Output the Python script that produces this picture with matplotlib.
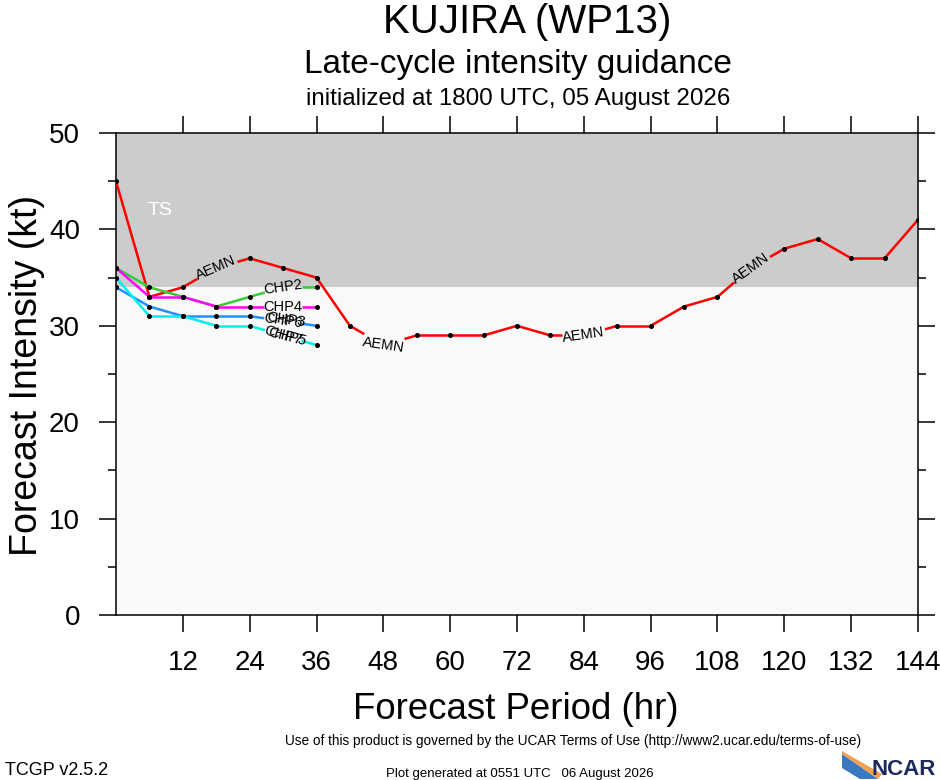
import matplotlib
matplotlib.use('Agg')
import matplotlib.pyplot as plt
import numpy as np
from matplotlib import font_manager
from matplotlib.patches import Polygon

plt.rcParams['font.family'] = ['Liberation Sans', 'DejaVu Sans']

# forecast hours
hours = [0, 6, 12, 18, 24, 30, 36, 42, 48, 54, 60, 66, 72, 78, 84, 90, 96,
         102, 108, 114, 120, 126, 132, 138, 144]
aemn = [45, 33, 34, 36, 37, 36, 35, 30, 28, 29, 29, 29, 30, 29, 29, 30, 30,
        32, 33, 36, 38, 39, 37, 37, 41]
chp_hours = [0, 6, 12, 18, 24, 30, 36]
chp2 = [36, 34, 33, 32, 33, 34, 34]
chp4 = [36, 33, 33, 32, 32, 32, 32]
chp6 = [34, 32, 31, 31, 31, 30.5, 30]
chp7 = [35, 31, 31, 30, 30, 29, 28]

x_ticks = list(range(12, 145, 12))
y_ticks = [0, 10, 20, 30, 40, 50]

names = [f.name for f in font_manager.fontManager.ttflist]
narrow = 'Liberation Sans Narrow' if 'Liberation Sans Narrow' in names else 'Liberation Sans'

fig = plt.figure(figsize=(9.4, 7.8), dpi=100)
ax = fig.add_axes([116 / 940, 165 / 780, 802 / 940, 482 / 780])
ax.set_xlim(0, 144)
ax.set_ylim(0, 50)
ax.set_facecolor('#f9f9f9')
ax.axhspan(34, 50, color='#cccccc', zorder=0, lw=0)
ax.text(8, 42, 'TS', color='white', fontsize=14, ha='center', va='center')

ax.set_xticks(x_ticks)
ax.set_yticks(y_ticks)
ax.set_yticks(range(5, 50, 10), minor=True)
ax.tick_params(axis='x', direction='out', length=12, width=1.1, top=True,
               labelsize=20, pad=13)
ax.tick_params(axis='y', which='major', direction='out', length=12, width=1.1,
               right=True, labelsize=20, pad=14)
ax.tick_params(axis='y', which='minor', direction='out', length=6, width=1.1,
               right=True)
for s in ax.spines.values():
    s.set_linewidth(1.1)


def draw_series(xs, ys, color, name, label_idx, gap=22, fs=10.5):
    pts = ax.transData.transform(np.column_stack([xs, ys]))
    inv = ax.transData.inverted()
    n = len(pts)
    for i in range(n - 1):
        a, b = pts[i], pts[i + 1]
        seg = np.hypot(*(b - a))
        t0, t1 = 0.0, 1.0
        if i in label_idx:
            t0 = gap / seg
        if i + 1 in label_idx:
            t1 = 1 - gap / seg
        if t1 > t0:
            p0 = inv.transform(a + (b - a) * t0)
            p1 = inv.transform(a + (b - a) * t1)
            ax.plot([p0[0], p1[0]], [p0[1], p1[1]], color=color, lw=1.8,
                    solid_capstyle='butt', zorder=3)
    keep = [i for i in range(n) if i not in label_idx]
    ax.plot([xs[i] for i in keep], [ys[i] for i in keep], 'o', color='black',
            ms=2.6, zorder=4)
    for k in label_idx:
        p = pts[max(k - 1, 0)]
        q = pts[min(k + 1, n - 1)]
        ang = np.degrees(np.arctan2(q[1] - p[1], q[0] - p[0]))
        ax.text(xs[k], ys[k], name, fontsize=fs, rotation=ang,
                rotation_mode='anchor', ha='center', va='center', zorder=5)


draw_series(hours, aemn, '#ff0000', 'AEMN', [3, 8, 14, 19])
draw_series(chp_hours, chp2, '#33cc33', 'CHP2', [5], gap=19)
draw_series(chp_hours, chp4, '#ff00ff', 'CHP4', [5], gap=19)
draw_series(chp_hours, chp6, '#1e90ff', 'CHP6', [5], gap=19)
draw_series(chp_hours, chp7, '#00eeee', 'CHP7', [5], gap=19)
# overlapping model labels
ax.text(30.6, 30.6, 'CHP3', fontsize=10.5, rotation=-8, rotation_mode='anchor',
        ha='center', va='center', zorder=5)
ax.text(30.8, 28.9, 'CHP5', fontsize=10.5, rotation=-14, rotation_mode='anchor',
        ha='center', va='center', zorder=5)

fig.text(527 / 940, 1 - 33 / 780, 'KUJIRA (WP13)', fontsize=29, ha='center',
         va='baseline')
fig.text(518 / 940, 1 - 73 / 780, 'Late-cycle intensity guidance', fontsize=24,
         ha='center', va='baseline')
fig.text(518 / 940, 1 - 105 / 780, 'initialized at 1800 UTC, 05 August 2026',
         fontsize=17.4, ha='center', va='baseline')
fig.text(516 / 940, 1 - 719 / 780, 'Forecast Period (hr)', fontsize=26.4,
         ha='center', va='baseline')
fig.text(27 / 940, 1 - 375 / 780, 'Forecast Intensity (kt)',
         fontsize=27, rotation=90, ha='center', va='center')

fig.text(573 / 940, 1 - 745 / 780,
         'Use of this product is governed by the UCAR Terms of Use (http://www2.ucar.edu/terms-of-use)',
         fontsize=9.8, family=narrow, ha='center', va='baseline')
fig.text(5 / 940, 1 - 775 / 780, 'TCGP v2.5.2', fontsize=13, family=narrow,
         ha='left', va='baseline')
fig.text(520 / 940, 1 - 777 / 780, 'Plot generated at 0551 UTC   06 August 2026',
         fontsize=9.5, family=narrow, ha='center', va='baseline')

# NCAR logo
sw = Polygon([[842 / 940, 1 - 754 / 780], [878 / 940, 1 - 779 / 780],
              [860 / 940, 1 - 779 / 780], [842 / 940, 1 - 768 / 780]],
             closed=True, transform=fig.transFigure, color='#3a78c0', lw=0)
fig.patches.append(sw)
sw2 = Polygon([[842 / 940, 1 - 751 / 780], [882 / 940, 1 - 774 / 780],
               [878 / 940, 1 - 779 / 780], [842 / 940, 1 - 754 / 780]],
              closed=True, transform=fig.transFigure, color='#f0a050', lw=0)
fig.patches.append(sw2)
fig.text(936 / 940, 1 - 775 / 780, 'NCAR', fontsize=16, fontweight='bold',
         family=narrow, color='#1b2a5c', ha='right', va='baseline')

fig.savefig('out.png', dpi=100)
